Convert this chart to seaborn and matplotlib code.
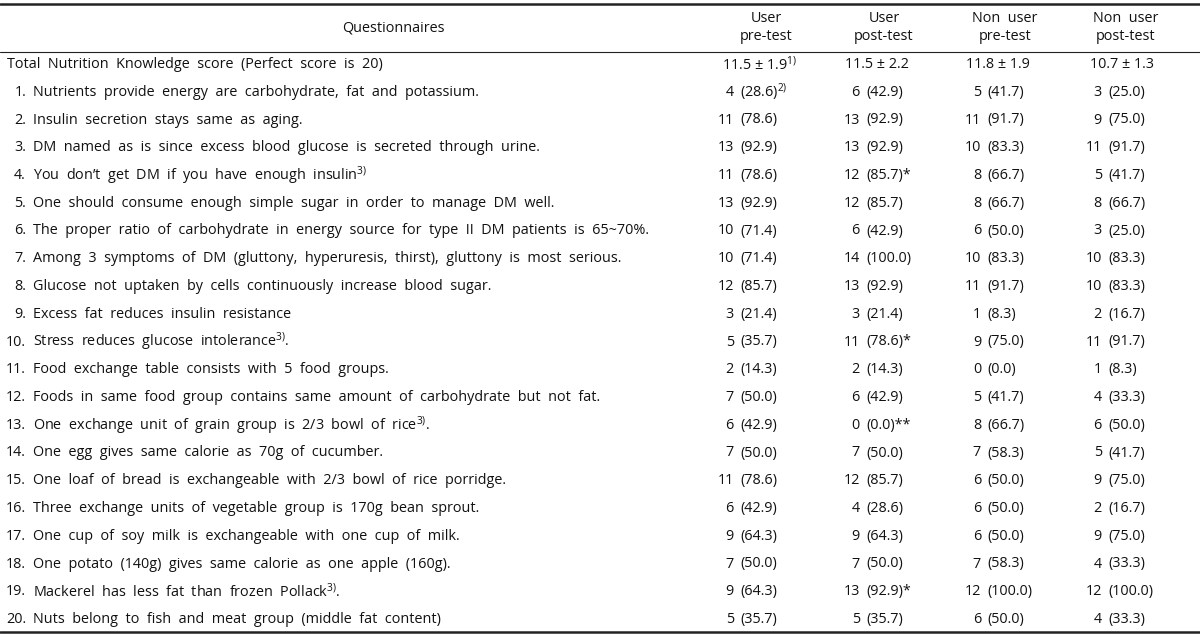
import matplotlib
matplotlib.use("Agg")
import matplotlib.pyplot as plt
import seaborn as sns

# ---------------- data ----------------
col_headers = ["User\npre-test", "User\npost-test", "Non user\npre-test", "Non user\npost-test"]
row_title = "Total Nutrition Knowledge score (Perfect score is 20)"
total_scores = ["11.5 ± 1.9$^{\\mathrm{1)}}$", "11.5 ± 2.2", "11.8 ± 1.9", "10.7 ± 1.3"]

questions = [
    "Nutrients provide energy are carbohydrate, fat and potassium.",
    "Insulin secretion stays same as aging.",
    "DM named as is since excess blood glucose is secreted through urine.",
    "You don’t get DM if you have enough insulin$^{\\mathrm{3)}}$",
    "One should consume enough simple sugar in order to manage DM well.",
    "The proper ratio of carbohydrate in energy source for type II DM patients is 65~70%.",
    "Among 3 symptoms of DM (gluttony, hyperuresis, thirst), gluttony is most serious.",
    "Glucose not uptaken by cells continuously increase blood sugar.",
    "Excess fat reduces insulin resistance",
    "Stress reduces glucose intolerance$^{\\mathrm{3)}}$.",
    "Food exchange table consists with 5 food groups.",
    "Foods in same food group contains same amount of carbohydrate but not fat.",
    "One exchange unit of grain group is 2/3 bowl of rice$^{\\mathrm{3)}}$.",
    "One egg gives same calorie as 70g of cucumber.",
    "One loaf of bread is exchangeable with 2/3 bowl of rice porridge.",
    "Three exchange units of vegetable group is 170g bean sprout.",
    "One cup of soy milk is exchangeable with one cup of milk.",
    "One potato (140g) gives same calorie as one apple (160g).",
    "Mackerel has less fat than frozen Pollack$^{\\mathrm{3)}}$.",
    "Nuts belong to fish and meat group (middle fat content)",
]

user_pre_n = [4, 11, 13, 11, 13, 10, 10, 12, 3, 5, 2, 7, 6, 7, 11, 6, 9, 7, 9, 5]
user_pre_pct = [28.6, 78.6, 92.9, 78.6, 92.9, 71.4, 71.4, 85.7, 21.4, 35.7, 14.3, 50.0, 42.9, 50.0, 78.6, 42.9, 64.3, 50.0, 64.3, 35.7]
user_post_n = [6, 13, 13, 12, 12, 6, 14, 13, 3, 11, 2, 6, 0, 7, 12, 4, 9, 7, 13, 5]
user_post_pct = [42.9, 92.9, 92.9, 85.7, 85.7, 42.9, 100.0, 92.9, 21.4, 78.6, 14.3, 42.9, 0.0, 50.0, 85.7, 28.6, 64.3, 50.0, 92.9, 35.7]
non_pre_n = [5, 11, 10, 8, 8, 6, 10, 11, 1, 9, 0, 5, 8, 7, 6, 6, 6, 7, 12, 6]
non_pre_pct = [41.7, 91.7, 83.3, 66.7, 66.7, 50.0, 83.3, 91.7, 8.3, 75.0, 0.0, 41.7, 66.7, 58.3, 50.0, 50.0, 50.0, 58.3, 100.0, 50.0]
non_post_n = [3, 9, 11, 5, 8, 3, 10, 10, 2, 11, 1, 4, 6, 5, 9, 2, 9, 4, 12, 4]
non_post_pct = [25.0, 75.0, 91.7, 41.7, 66.7, 25.0, 83.3, 83.3, 16.7, 91.7, 8.3, 33.3, 50.0, 41.7, 75.0, 16.7, 75.0, 33.3, 100.0, 33.3]

# significance marks / footnotes (row index -> text) per column
user_pre_marks = {0: "$^{\\mathrm{2)}}$"}
user_post_marks = {3: "*", 9: "*", 12: "**", 18: "*"}
non_pre_marks = {}
non_post_marks = {}

# ---------------- style ----------------
sns.set_theme(style="white")
plt.rcParams["font.family"] = ["Open Sans", "DejaVu Sans"]
plt.rcParams["mathtext.fontset"] = "custom"
plt.rcParams["mathtext.rm"] = "Open Sans"
plt.rcParams["mathtext.it"] = "Open Sans:italic"
plt.rcParams["mathtext.bf"] = "Open Sans:bold"

FS = 10.4
TXT = "#111111"


def wide(s):
    """Mimic the wide word spacing of the source typesetting."""
    return s.replace(" ", "  ")


fig = plt.figure(figsize=(12, 6.37), dpi=100)
ax = fig.add_axes([0, 0, 1, 1])
ax.set_xlim(0, 1200)
ax.set_ylim(637, 0)
ax.axis("off")

# rules
ax.axhline(4, color="#222222", lw=1.8)
ax.axhline(52, color="#222222", lw=0.8)
ax.axhline(632, color="#222222", lw=1.8)

# header
ax.text(393, 28, "Questionnaires", ha="center", va="center", fontsize=FS, color=TXT)
head_x = [766, 884, 1005, 1126]
for hx, h in zip(head_x, col_headers):
    top, bot = h.split("\n")
    ax.text(hx, 19, wide(top), ha="center", va="center", fontsize=FS, color=TXT)
    ax.text(hx, 37, bot, ha="center", va="center", fontsize=FS, color=TXT)

# rows
y0 = 64.5
dy = 27.75

ax.text(7, y0, wide(row_title), ha="left", va="center", fontsize=FS, color=TXT)
total_x = [722, 845, 966, 1090]
for tx, s in zip(total_x, total_scores):
    ax.text(tx, y0, s, ha="left", va="center", fontsize=FS, color=TXT)

paren_x = [740, 866, 987, 1108]
cols = [
    (user_pre_n, user_pre_pct, user_pre_marks),
    (user_post_n, user_post_pct, user_post_marks),
    (non_pre_n, non_pre_pct, non_pre_marks),
    (non_post_n, non_post_pct, non_post_marks),
]

for i, q in enumerate(questions):
    y = y0 + dy * (i + 1)
    ax.text(26, y, f"{i + 1}.", ha="right", va="center", fontsize=FS, color=TXT)
    ax.text(33, y, wide(q), ha="left", va="center", fontsize=FS, color=TXT)
    for px, (ns, pcts, marks) in zip(paren_x, cols):
        ax.text(px - 6, y, f"{ns[i]}", ha="right", va="center", fontsize=FS, color=TXT)
        ax.text(px, y, f"({pcts[i]:.1f})" + marks.get(i, ""), ha="left", va="center",
                fontsize=FS, color=TXT)

fig.savefig("out.png", dpi=100, facecolor="white")
